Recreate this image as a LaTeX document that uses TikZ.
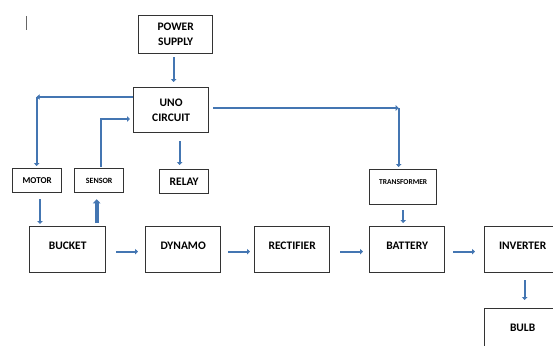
\documentclass[tikz,border=0pt]{standalone}
\usepackage{fontspec}
\setmainfont{Carlito}
\usetikzlibrary{arrows.meta}
\definecolor{flowblue}{RGB}{68,118,178}

\tikzset{
  box/.style={draw=black!80, line width=1.3pt, anchor=north west, inner sep=0pt,
    align=center, font=\bfseries\fontsize{11.5}{15}\selectfont},
  lowbox/.style={box, minimum width=76, text height=23, text depth=23},
  flow/.style={draw=flowblue, line width=2.3pt, -{Triangle[length=3pt,width=5.5pt]}},
}

\begin{document}
\begin{tikzpicture}[x=1pt,y=-1pt]
  \useasboundingbox (0,0) rectangle (553,345);
  \draw[black!60, line width=0.6pt] (26,16) -- (26,30);

  \node[box, minimum width=74, minimum height=38] (supply) at (138,15) {POWER\\SUPPLY};
  \node[box, minimum width=75, minimum height=45] (uno) at (133,87) {UNO\\CIRCUIT};
  \node[box, minimum width=49, minimum height=24, font=\bfseries\fontsize{9}{10}\selectfont] (motor) at (12,168) {MOTOR};
  \node[box, minimum width=49, minimum height=24, font=\bfseries\fontsize{8}{9}\selectfont] (sensor) at (74,168) {SENSOR};
  \node[box, minimum width=49, minimum height=24] (relay) at (159,169) {RELAY};
  \node[box, minimum width=67, minimum height=35, font=\bfseries\fontsize{7.5}{9}\selectfont] (transformer) at (369,169) {TRANSFORMER\\[1pt]};

  \node[lowbox] (bucket) at (29,226) {BUCKET};
  \node[lowbox, minimum width=75] (dynamo) at (145,226) {DYNAMO};
  \node[lowbox, minimum width=75] (rectifier) at (254,226) {RECTIFIER};
  \node[lowbox, minimum width=75] (battery) at (369,226) {BATTERY};
  \node[lowbox] (inverter) at (484,226) {INVERTER};
  \node[lowbox] (bulb) at (484,308) {BULB};

  \coordinate (uw1) at ([yshift=-10]uno.north west);
  \coordinate (uw2) at ([yshift=-32]uno.north west);
  \coordinate (ue) at ([yshift=-21]uno.north east);
  \coordinate (m) at ([xshift=-0.5]motor.north);
  \coordinate (t) at ([xshift=-4.5]transformer.north);
  \coordinate (r) at ([xshift=-4.5]relay.north);
  \coordinate (s) at ([xshift=1.5]sensor.north);
  \coordinate (p) at ([xshift=-2]supply.south);
  \coordinate (bm) at ([xshift=11]bucket.north west);
  \coordinate (bs) at ([xshift=29]bucket.north);

  \draw[flow, shorten <=3, shorten >=5] (p) -- (p |- uno.north);

  \draw[flow] (uw1) -- (m |- uw1);
  \draw[flow, shorten >=2] (m |- uw1) -- (m);
  \draw[flow, shorten <=1, shorten >=3] (s) |- (uw2);
  \draw[flow, shorten <=8, shorten >=4] (uno.south -| r) -- (r);

  \draw[flow, shorten <=4] (ue) -- (t |- ue);
  \draw[flow, shorten >=2] (t |- ue) -- (t);
  \draw[flow, shorten <=5, shorten >=3] (transformer.south) -- (battery.north -| transformer.south);

  \draw[flow, shorten <=6, shorten >=2] (bm |- motor.south) -- (bm);
  \draw[flow, line width=3.8pt, -{Triangle[length=4pt,width=7.5pt]}, shorten <=3, shorten >=6] (bs) -- (bs |- sensor.south);

  \draw[flow, shorten <=10, shorten >=7] ([yshift=-2]bucket.east) -- ([yshift=-2]dynamo.west);
  \draw[flow, shorten <=7, shorten >=4] ([yshift=-2]dynamo.east) -- ([yshift=-2]rectifier.west);
  \draw[flow, shorten <=10, shorten >=6] ([yshift=-2]rectifier.east) -- ([yshift=-2]battery.west);
  \draw[flow, shorten <=8, shorten >=9] ([yshift=-2]battery.east) -- ([yshift=-2]inverter.west);
  \draw[flow, shorten <=7, shorten >=8] ([xshift=2]inverter.south) -- ([xshift=2]bulb.north);
\end{tikzpicture}
\end{document}
